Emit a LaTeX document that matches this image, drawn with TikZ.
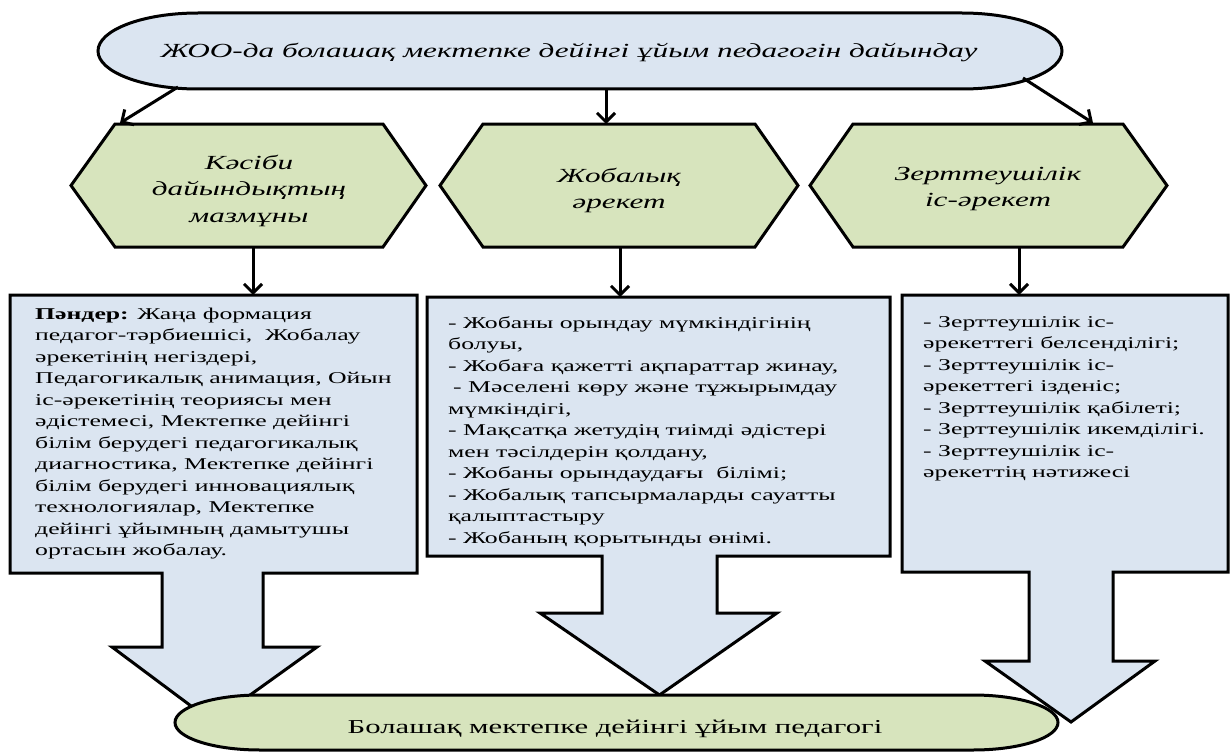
\documentclass[tikz,border=0pt]{standalone}
\usepackage{fontspec}
\setmainfont{Liberation Serif}[FakeStretch=1.56]
\usetikzlibrary{arrows.meta,calc}
\definecolor{bluefill}{HTML}{DBE5F1}
\definecolor{greenfill}{HTML}{D7E4BD}
\tikzset{
  shapeline/.style={draw=black, line width=3pt, line join=miter},
  conn/.style={line width=3pt, -{Straight Barb[length=9pt,width=18pt]}},
  area/.style={draw=none, inner sep=0pt, outer sep=0pt},
  boxtext/.style={inner sep=0pt, anchor=base west, align=left, font=\fontsize{16.5}{21.5}\selectfont},
  hextext/.style={inner sep=0pt, anchor=base, align=center, font=\itshape\fontsize{20}{26.5}\selectfont},
}
\begin{document}
\begin{tikzpicture}[x=1pt,y=-1pt]
\useasboundingbox (0,0) rectangle (1232,752);

% ---- top terminal
\node[area, minimum width=964pt, minimum height=76pt] (head) at (580,51) {};
\draw[shapeline, fill=bluefill] (198,13) -- (962,13)
  .. controls (1017.2,13) and (1062,30) .. (1062,51)
  .. controls (1062,72) and (1017.2,89) .. (962,89) -- (198,89)
  .. controls (142.8,89) and (98,72) .. (98,51)
  .. controls (98,30) and (142.8,13) .. (198,13) -- cycle;

% ---- hexagons
\node[area, minimum width=268pt, minimum height=123pt] (h1) at (249,185.5) {};
\node[area, minimum width=272pt, minimum height=123pt] (h2) at (619,185.5) {};
\node[area, minimum width=270pt, minimum height=123pt] (h3) at (988,185.5) {};
\draw[shapeline, fill=greenfill] (71,185.5) -- (115,124) -- (383,124) -- (426,185.5) -- (383,247) -- (115,247) -- cycle;
\draw[shapeline, fill=greenfill] (440,185.5) -- (483,124) -- (755,124) -- (798,185.5) -- (755,247) -- (483,247) -- cycle;
\draw[shapeline, fill=greenfill] (810,185.5) -- (853,124) -- (1123,124) -- (1167,185.5) -- (1123,247) -- (853,247) -- cycle;

% ---- boxes with down arrows
\node[area, minimum width=407pt, minimum height=278pt] (b1) at (213.5,434) {};
\node[area, minimum width=463pt, minimum height=259pt] (b2) at (658.5,426.5) {};
\node[area, minimum width=326pt, minimum height=277pt] (b3) at (1065,433.5) {};
\draw[shapeline, fill=bluefill] (10,295) -- (417,295) -- (417,573) -- (263,573) -- (263,647) -- (317,647) -- (212.5,722) -- (112,647) -- (162,647) -- (162,573) -- (10,573) -- cycle;
\draw[shapeline, fill=bluefill] (427,297) -- (890,297) -- (890,556) -- (717,556) -- (717,613) -- (777,613) -- (659.5,695) -- (540,613) -- (602,613) -- (602,556) -- (427,556) -- cycle;
\draw[shapeline, fill=bluefill] (902,295) -- (1228,295) -- (1228,572) -- (1113,572) -- (1113,661) -- (1155,661) -- (1071,722) -- (985,661) -- (1029,661) -- (1029,572) -- (902,572) -- cycle;

% ---- bottom terminal
\node[area, minimum width=883pt, minimum height=55pt] (goal) at (616.5,722.5) {};
\draw[shapeline, fill=greenfill] (260,695) -- (973,695)
  .. controls (1019.9,695) and (1058,707.3) .. (1058,722.5)
  .. controls (1058,737.7) and (1019.9,750) .. (973,750) -- (260,750)
  .. controls (213.1,750) and (175,737.7) .. (175,722.5)
  .. controls (175,707.3) and (213.1,695) .. (260,695) -- cycle;

% ---- connectors
\coordinate (t1) at (178,87);
\coordinate (t2) at (606,89);
\coordinate (t3) at (1023,78);
\draw[conn] (t1) -- ($(h1.north west)+(5,-1)$);
\draw[conn] (t2) -- (t2 |- h2.north);
\draw[conn] (t3) -- ($(h3.north east)+(-30,-1)$);
\draw[conn] ([xshift=4pt]h1.south) -- ([xshift=4pt]h1.south |- b1.north);
\draw[conn] ([xshift=1pt]h2.south) -- ([xshift=1pt]h2.south |- b2.north);
\draw[conn] ([xshift=31pt]h3.south) -- ([xshift=31pt]h3.south |- b3.north);

% ---- texts (multi-line nodes: base = last line)
\node[inner sep=0pt, anchor=base, font=\itshape\fontsize{20}{24}\selectfont] (headtext) at (569,58)
  {ЖОО-да болашақ мектепке дейінгі ұйым педагогін дайындау};
\node[hextext] (h1t) at (249,222) {Кәсіби\\дайындықтың\\мазмұны};
\node[hextext] (h2t) at (619,208.5) {Жобалық\\әрекет};
\node[hextext] (h3t) at (988,206.5) {Зерттеушілік\\іс-әрекет};

\node[boxtext] (b1t) at (35,555.5) {\textbf{Пәндер:} Жаңа формация\\
педагог-тәрбиешісі,\ \ Жобалау\\
әрекетінің негіздері,\\
Педагогикалық анимация, Ойын\\
іс-әрекетінің теориясы мен\\
әдістемесі, Мектепке дейінгі\\
білім берудегі педагогикалық\\
диагностика, Мектепке дейінгі\\
білім берудегі инновациялық\\
технологиялар, Мектепке\\
дейінгі ұйымның дамытушы\\
ортасын жобалау.};

\node[boxtext] (b2t) at (448,543) {- Жобаны орындау мүмкіндігінің\\
болуы,\\
- Жобаға қажетті ақпараттар жинау,\\
\hspace{5pt}- Мәселені көру және тұжырымдау\\
мүмкіндігі,\\
- Мақсатқа жетудің тиімді әдістері\\
мен тәсілдерін қолдану,\\
- Жобаны орындаудағы\ \ білімі;\\
- Жобалық тапсырмаларды сауатты\\
қалыптастыру\\
- Жобаның қорытынды өнімі.};

\node[boxtext] (b3t) at (923,477.5) {- Зерттеушілік іс-\\
әрекеттегі белсенділігі;\\
- Зерттеушілік іс-\\
әрекеттегі ізденіс;\\
- Зерттеушілік қабілеті;\\
- Зерттеушілік икемділігі.\\
- Зерттеушілік іс-\\
әрекеттің нәтижесі};

\node[inner sep=0pt, anchor=base, font=\fontsize{19.7}{24}\selectfont] (goaltext) at (615,733)
  {Болашақ мектепке дейінгі ұйым педагогі};
\end{tikzpicture}
\end{document}
